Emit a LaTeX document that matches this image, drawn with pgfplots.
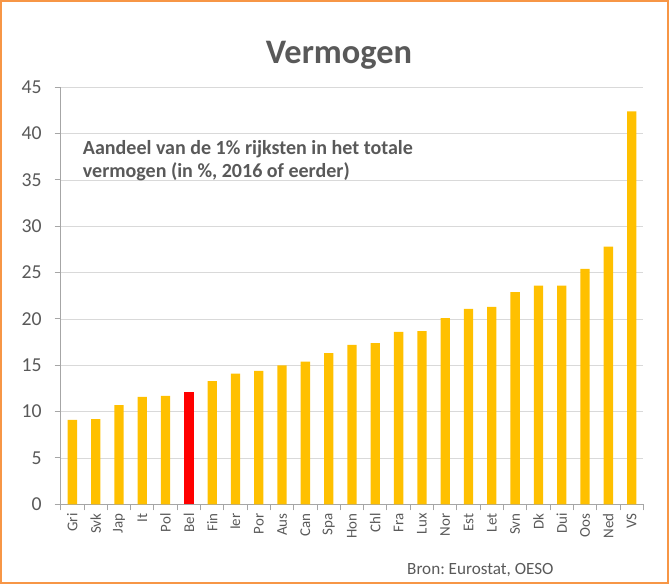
\documentclass[border=0pt]{standalone}
\usepackage{pgfplots}
\pgfplotsset{compat=1.18}
\usepackage{fontspec}
\setmainfont{Carlito}
\frenchspacing
\definecolor{bargold}{HTML}{FFC000}
\definecolor{barred}{HTML}{FF0000}
\definecolor{txt}{HTML}{595959}
\definecolor{gridc}{HTML}{D9D9D9}
\definecolor{axc}{HTML}{A6A6A6}
\definecolor{framec}{HTML}{F79646}
\begin{document}
\begin{tikzpicture}[x=1bp,y=1bp]
\useasboundingbox (0,0) rectangle (669,584);
\draw[framec, line width=2bp] (1,1) rectangle (668,583);
\begin{axis}[
  at={(60.7bp,79.7bp)}, anchor=south west,
  scale only axis, width=582.6bp, height=417bp,
  xmin=-0.5, xmax=24.5, ymin=0, ymax=45,
  ytick={0,5,...,45},
  xtick={-0.5,0.5,...,24.5},
  xticklabels={Gri,Svk,Jap,It,Pol,Bel,Fin,Ier,Por,Aus,Can,Spa,Hon,Chl,Fra,Lux,Nor,Est,Let,Svn,Dk,Dui,Oos,Ned,VS,{}},
  ymajorgrids, grid style={gridc, line width=0.9bp},
  axis x line*=bottom, axis y line*=left,
  axis line style={axc, line width=1bp},
  tick style={axc, line width=1bp},
  tick align=outside, major tick length=6bp,
  /pgf/number format/assume math mode=true,
  yticklabel style={font=\fontsize{19.8}{22}\selectfont, text=txt, inner sep=0pt, anchor=east, xshift=-13bp},
  xticklabel style={font=\fontsize{15}{17}\selectfont, text=txt, inner sep=0pt, xshift=11.65bp, yshift=-3bp, rotate=90, anchor=east},
]
\addplot[ybar, bar width=9.3bp, bar shift=0pt, fill=bargold, draw=none] coordinates {
(0,9.1) (1,9.2) (2,10.7) (3,11.6) (4,11.7) (6,13.3) (7,14.1) (8,14.4) (9,15.0) (10,15.4) (11,16.3) (12,17.2) (13,17.4) (14,18.6) (15,18.7) (16,20.1) (17,21.1) (18,21.3) (19,22.9) (20,23.6) (21,23.6) (22,25.4) (23,27.8) (24,42.4)
};
\addplot[ybar, bar width=9.3bp, bar shift=0pt, fill=barred, draw=none] coordinates {(5,12.1)};
\end{axis}
\node[anchor=base, inner sep=0pt, text=txt, font=\fontsize{34.5}{40}\selectfont\bfseries] at (339,520.7) {Vermogen};
\node[anchor=base west, inner sep=0pt, text=txt, font=\fontsize{20.1}{23}\selectfont\bfseries] at (82.7,429) {Aandeel van de 1\% rijksten in het totale};
\node[anchor=base west, inner sep=0pt, text=txt, font=\fontsize{20.1}{23}\selectfont\bfseries] at (82.7,406) {vermogen (in \%, 2016 of eerder)};
\node[anchor=base west, inner sep=0pt, text=txt, font=\fontsize{17.2}{20}\selectfont] at (407,9) {Bron: Eurostat, OESO};
\end{tikzpicture}
\end{document}
